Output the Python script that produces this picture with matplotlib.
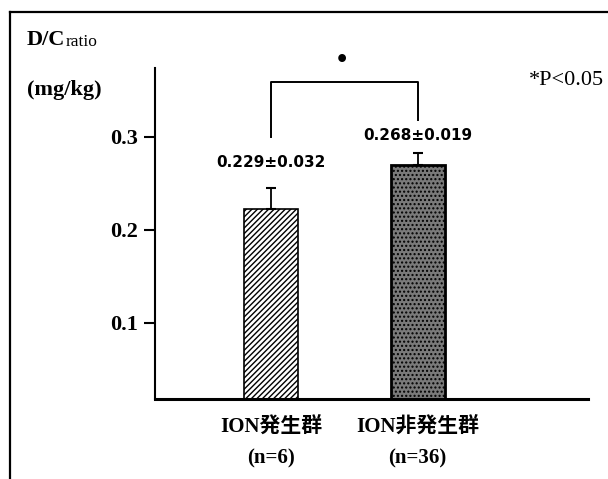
import matplotlib
matplotlib.use("Agg")
import matplotlib.pyplot as plt
from matplotlib.lines import Line2D

# Data
group_line1 = ["ION発生群", "ION非発生群"]
group_line2 = ["(n=6)", "(n=36)"]
means = [0.222, 0.270]
errs = [0.023, 0.013]
value_labels = ["0.229±0.032", "0.268±0.019"]
yticks = [0.1, 0.2, 0.3]
ytick_labels = ["0.1", "0.2", "0.3"]

serif = ["Liberation Serif", "Noto Sans CJK JP"]

fig = plt.figure(figsize=(6.08, 4.79), dpi=100)
ax = fig.add_axes([0.255, 0.167, 0.712, 0.691])

x = [0, 1]
bars = ax.bar(x, means, width=0.37, color=["white", "#7a7a7a"],
              edgecolor="black", linewidth=[1.2, 2.0])
bars[0].set_hatch("//////")
bars[1].set_hatch("....")
ax.errorbar(x, means, yerr=[[0, 0], errs], fmt="none", ecolor="black",
            elinewidth=1.3, capsize=3.5, capthick=1.5)

ax.set_xlim(-0.79, 2.16)
ax.set_ylim(0.018, 0.374)
ax.set_yticks(yticks)
ax.set_yticklabels(ytick_labels, fontfamily=serif, fontweight="bold", fontsize=16)
ax.set_xticks([])
ax.tick_params(axis="y", direction="out", length=8, width=1.5, pad=4)
for s in ["top", "right"]:
    ax.spines[s].set_visible(False)
ax.spines["left"].set_linewidth(1.5)
ax.spines["bottom"].set_linewidth(2.2)

# value labels
offsets = [13, 7]
for xi, m, e, lab, off in zip(x, means, errs, value_labels, offsets):
    ax.annotate(lab, (xi, m + e), xytext=(0, off), textcoords="offset points",
                ha="center", va="bottom", fontsize=11, fontweight="bold",
                fontfamily=["DejaVu Sans"])

# significance bracket
ax.plot([0, 0, 1, 1], [0.300, 0.359, 0.359, 0.318], color="black", lw=1.4,
        clip_on=False)
ax.text(0.48, 0.372, "•", ha="center", va="bottom", fontsize=16,
        fontweight="bold", clip_on=False)

# group labels
for xi, l1, l2 in zip(x, group_line1, group_line2):
    ax.annotate(l1, (xi, 0), xycoords=("data", "axes fraction"),
                xytext=(0, -20), textcoords="offset points", ha="center",
                va="center", fontsize=15, fontweight="bold", fontfamily=serif)
    ax.annotate(l2, (xi, 0), xycoords=("data", "axes fraction"),
                xytext=(0, -43), textcoords="offset points", ha="center",
                va="center", fontsize=15, fontweight="bold", fontfamily=serif)

# figure texts
fig.text(0.044, 0.917, "D/C", fontsize=16, fontweight="bold",
         fontfamily=serif, va="center", ha="left")
fig.text(0.108, 0.913, "ratio", fontsize=12.5, fontfamily=serif,
         va="center", ha="left")
fig.text(0.044, 0.812, "(mg/kg)", fontsize=16, fontweight="bold",
         fontfamily=serif, va="center", ha="left")
fig.text(0.993, 0.831, "*P<0.05", fontsize=16, fontfamily=serif,
         va="center", ha="right")

# outer frame (top and left only)
fig.add_artist(Line2D([0.017, 1.0], [0.975, 0.975], color="black", lw=1.6,
                      transform=fig.transFigure))
fig.add_artist(Line2D([0.017, 0.017], [0.0, 0.975], color="black", lw=1.6,
                      transform=fig.transFigure))

fig.savefig("out.png", dpi=100)
